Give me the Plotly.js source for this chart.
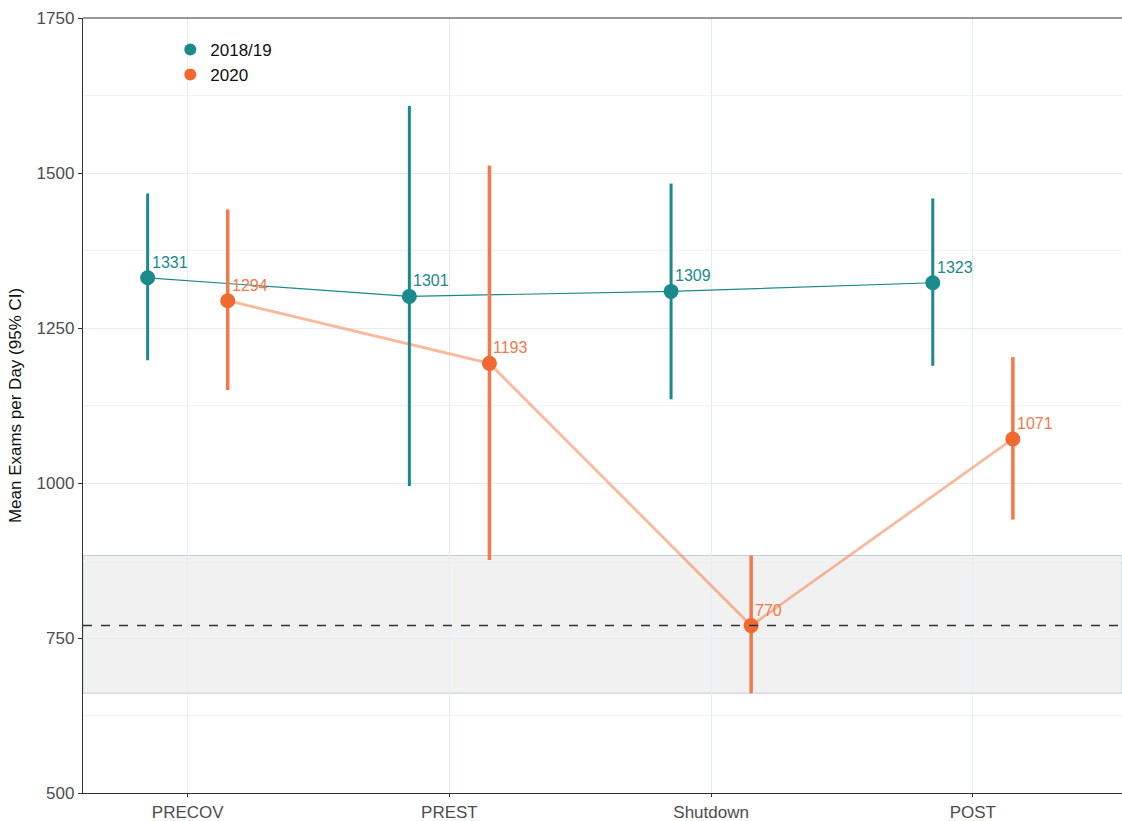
<!DOCTYPE html>
<html><head><meta charset="utf-8">
<script src="https://cdn.plot.ly/plotly-3.0.1.min.js"></script>
<style>html,body{margin:0;padding:0;background:#fff}#chart{width:1122px;height:821px}</style>
</head><body><div id="chart"></div>
<script>
const categories = ["PRECOV","PREST","Shutdown","POST"];
const seriesNames = ["2018/19","2020"];
const mean1819 = [1331,1301,1309,1323];
const lower1819 = [1198,995,1135,1189];
const upper1819 = [1467,1608,1483,1459];
const mean2020 = [1294,1193,770,1071];
const lower2020 = [1150,876,661,941];
const upper2020 = [1441,1512,883,1203];
const refMean = 770;
const refLower = 661;
const refUpper = 883;
const yTicks = [500,750,1000,1250,1500,1750];

const teal = "#1b8a8c";
const orange = "#f2692f";
const dodge = 0.153;
const idx = categories.map((c,i)=>i);
const x1 = idx.map(i=>i-dodge);
const x2 = idx.map(i=>i+dodge);
const FONT = "Liberation Sans, Arial, sans-serif";

const traces = [
  {x:x1,y:mean1819,mode:"lines",line:{color:teal,width:1.2},showlegend:false,hoverinfo:"skip"},
  {x:x2,y:mean2020,mode:"lines",line:{color:"rgba(245,140,90,0.6)",width:2.8},showlegend:false,hoverinfo:"skip"},
  {x:x1,y:mean1819,name:seriesNames[0],mode:"markers",marker:{color:teal,size:15},
   error_y:{type:"data",symmetric:false,array:mean1819.map((m,i)=>upper1819[i]-m),arrayminus:mean1819.map((m,i)=>m-lower1819[i]),color:teal,thickness:3,width:0}},
  {x:x2,y:mean2020,name:seriesNames[1],mode:"markers",marker:{color:orange,size:15},
   error_y:{type:"data",symmetric:false,array:mean2020.map((m,i)=>upper2020[i]-m),arrayminus:mean2020.map((m,i)=>m-lower2020[i]),color:"#f4794a",thickness:3.5,width:0}}
];

const annotations = [];
mean1819.forEach((v,i)=>annotations.push({x:x1[i],y:v,text:String(v),showarrow:false,xanchor:"left",yanchor:"bottom",xshift:2,yshift:5,font:{family:FONT,size:16,color:teal}}));
mean2020.forEach((v,i)=>annotations.push({x:x2[i],y:v,text:String(v),showarrow:false,xanchor:"left",yanchor:"bottom",xshift:2,yshift:5,font:{family:FONT,size:16,color:"#f4794a"}}));

const layout = {
  width:1122,height:821,
  margin:{l:83,r:0,t:18,b:28},
  paper_bgcolor:"#fff",plot_bgcolor:"#fff",
  font:{family:FONT,size:17,color:"#4d4d4d"},
  showlegend:true,
  legend:{x:0.084,y:0.982,xanchor:"left",yanchor:"top",bgcolor:"rgba(0,0,0,0)",font:{size:17,color:"#111"},itemsizing:"constant",tracegroupgap:0,itemwidth:30},
  xaxis:{range:[-0.4,3.57],tickvals:idx,ticktext:categories,showline:true,linecolor:"#333",linewidth:1.2,
    ticks:"outside",ticklen:3,tickcolor:"#333",showgrid:true,gridcolor:"#e6edf2",gridwidth:1,zeroline:false,
    tickfont:{size:17,color:"#4d4d4d"},fixedrange:true},
  yaxis:{range:[500,1750],tickvals:yTicks,showline:true,linecolor:"#333",linewidth:1.2,
    ticks:"outside",ticklen:4,tickcolor:"#333",showgrid:true,gridcolor:"#e6edf2",gridwidth:1,zeroline:false,
    minor:{dtick:125,showgrid:true,gridcolor:"#f1f4f6",gridwidth:1,ticks:""},
    tickfont:{size:17,color:"#4d4d4d"},
    title:{text:"Mean Exams per Day (95% CI)",font:{size:17,color:"#111"},standoff:10}},
  shapes:[
    {type:"rect",xref:"paper",x0:0,x1:1,yref:"y",y0:refLower,y1:refUpper,fillcolor:"rgba(200,200,200,0.25)",line:{color:"#bccfe0",width:1},layer:"below"},
    {type:"line",xref:"paper",x0:0,x1:1,yref:"y",y0:refMean,y1:refMean,line:{color:"#333",width:1.5,dash:"dash"}},
    {type:"line",xref:"paper",x0:0,x1:1,yref:"paper",y0:1,y1:1,line:{color:"#333",width:1.2}}
  ],
  annotations:annotations
};
Plotly.newPlot("chart",traces,layout,{displayModeBar:false,staticPlot:true});
</script></body></html>
